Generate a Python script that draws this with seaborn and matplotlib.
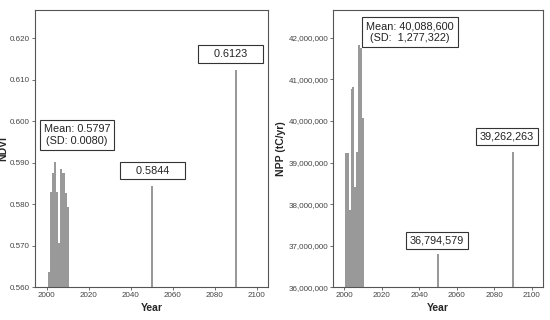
import seaborn as sns
import matplotlib.pyplot as plt
import pandas as pd
from matplotlib.ticker import FuncFormatter

# values
years = [2001, 2002, 2003, 2004, 2005, 2006, 2007, 2008, 2009, 2010, 2050, 2090]
ndvi = [0.5638, 0.5830, 0.5875, 0.5903, 0.5830, 0.5706, 0.5884, 0.5875, 0.5827, 0.5794,
        0.5844, 0.6123]
npp = [39220000, 39220000, 37860000, 40780000, 40820000, 38420000, 39260000, 41820000,
       41750000, 40060000, 36794579, 39262263]

ndvi_labels = ["Mean: 0.5797\n(SD: 0.0080)", "    0.5844    ", "    0.6123    "]
ndvi_label_pos = [(2014.4, 0.5967), (2050.3, 0.5881), (2087.4, 0.6162)]
npp_labels = ["Mean: 40,088,600\n(SD:  1,277,322)", "36,794,579", "39,262,263"]
npp_label_pos = [(2035.2, 42140000), (2049.6, 37130000), (2086.7, 39630000)]

df = pd.DataFrame({"Year": years, "NDVI": ndvi, "NPP": npp})

sns.set_theme(style="white")
plt.rcParams["font.family"] = ["Liberation Sans", "DejaVu Sans"]

fig = plt.figure(figsize=(5.5, 3.2), dpi=100)
ax1 = fig.add_axes([0.0636, 0.1022, 0.4236, 0.8666])
ax2 = fig.add_axes([0.606, 0.1022, 0.3818, 0.8666])

bar_color = "#999999"
sns.barplot(data=df, x="Year", y="NDVI", native_scale=True, width=1, color=bar_color,
            linewidth=0, saturation=1, ax=ax1)
sns.barplot(data=df, x="Year", y="NPP", native_scale=True, width=1, color=bar_color,
            linewidth=0, saturation=1, ax=ax2)

ax1.set_xlim(1994.4, 2105.4)
ax1.set_ylim(0.560, 0.6268)
ax1.set_yticks([0.56, 0.57, 0.58, 0.59, 0.60, 0.61, 0.62])
ax1.yaxis.set_major_formatter(FuncFormatter(lambda v, p: f"{v:.3f}"))
ax1.set_ylabel("NDVI", fontsize=7.5, fontweight="bold", labelpad=1)

ax2.set_xlim(1994.3, 2106.2)
ax2.set_ylim(36000000, 42670000)
ax2.set_yticks(range(36000000, 42000001, 1000000))
ax2.yaxis.set_major_formatter(FuncFormatter(lambda v, p: f"{v:,.0f}"))
ax2.set_ylabel("NPP (tC/yr)", fontsize=7.5, fontweight="bold", labelpad=2)

for ax in (ax1, ax2):
    ax.set_xticks(range(2000, 2101, 20))
    ax.set_xlabel("Year", fontsize=7.5, fontweight="bold", labelpad=3)
    ax.tick_params(axis="both", which="both", direction="out", length=2.5, width=0.6,
                   color="#555555", labelsize=5.8, labelcolor="#444444", pad=1,
                   left=True, bottom=True)
    for s in ax.spines.values():
        s.set_color("#555555")
        s.set_linewidth(0.8)

box = dict(boxstyle="square,pad=0.35", facecolor="white", edgecolor="#333333", linewidth=0.8)
for txt, (x, y) in zip(ndvi_labels, ndvi_label_pos):
    ax1.text(x, y, txt, ha="center", va="center", fontsize=7.8, color="#222222",
             bbox=box, linespacing=1.2)
for txt, (x, y) in zip(npp_labels, npp_label_pos):
    ax2.text(x, y, txt, ha="center", va="center", fontsize=7.8, color="#222222",
             bbox=box, linespacing=1.2)

plt.savefig("out.png", dpi=100)
